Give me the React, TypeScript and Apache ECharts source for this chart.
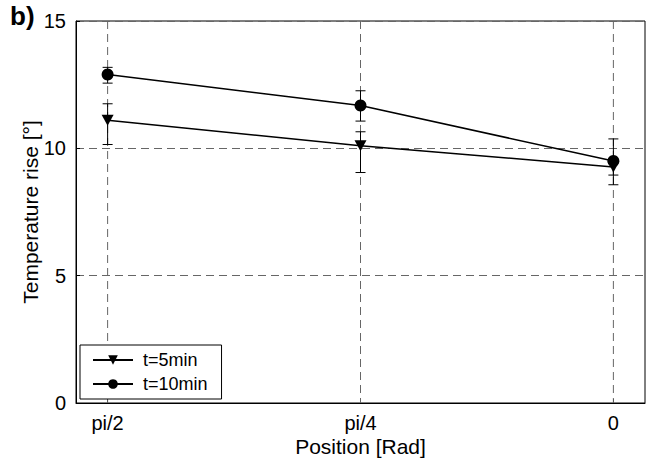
import React, { useEffect, useRef } from "react";
import * as echarts from "echarts";

const positions = ["pi/2", "pi/4", "0"];
const positionX = [0, 1, 2];
const t5 = [11.1, 10.1, 9.27];
const t5Low = [10.15, 9.05, 8.95];
const t5High = [11.75, 10.65, 9.58];
const t10 = [12.9, 11.68, 9.5];
const t10Low = [12.56, 11.07, 8.57];
const t10High = [13.18, 12.26, 10.37];
const yTicks = [0, 5, 10, 15];

const FONT = "'Liberation Sans', Arial, sans-serif";
const FS = 20;

export default function App() {
  const ref = useRef<HTMLDivElement>(null);
  useEffect(() => {
    if (!ref.current) return;
    const chart = echarts.init(ref.current, null, { renderer: "svg" });
    const errData = (lo: number[], hi: number[]) =>
      positionX.map((x, i) => [x, lo[i], hi[i]]);
    const renderErr = (params: any, api: any) => {
      const x = api.value(0);
      const lo = api.coord([x, api.value(1)]);
      const hi = api.coord([x, api.value(2)]);
      const w = 5;
      const style = { stroke: "#000", lineWidth: 1 };
      return {
        type: "group",
        children: [
          { type: "line", shape: { x1: lo[0], y1: lo[1], x2: hi[0], y2: hi[1] }, style },
          { type: "line", shape: { x1: lo[0] - w, y1: lo[1], x2: lo[0] + w, y2: lo[1] }, style },
          { type: "line", shape: { x1: hi[0] - w, y1: hi[1], x2: hi[0] + w, y2: hi[1] }, style },
        ],
      };
    };
    const renderGridX = (params: any, api: any) => {
      const x = api.value(0);
      const top = api.coord([x, 15]);
      const bot = api.coord([x, 0]);
      return {
        type: "line",
        shape: { x1: top[0], y1: top[1], x2: bot[0], y2: bot[1] },
        style: { stroke: "#666", lineWidth: 1, lineDash: [8, 5] },
      };
    };
    chart.setOption({
      animation: false,
      textStyle: { fontFamily: FONT },
      grid: {
        left: 76,
        right: 12,
        top: 21,
        bottom: 58,
        outerBoundsMode: "none",
        containLabel: false,
        show: true,
        borderColor: "#000",
        borderWidth: 1,
        backgroundColor: "transparent",
      },
      xAxis: {
        type: "value",
        min: -0.125,
        max: 2.125,
        name: "Position [Rad]",
        nameLocation: "middle",
        nameGap: 33,
        nameMoveOverlap: false,
        nameTextStyle: { fontSize: 21, color: "#000", fontFamily: FONT },
        axisLine: { onZero: false, lineStyle: { color: "#000", width: 1 } },
        axisTick: { show: true, inside: true, length: 4, customValues: positionX, lineStyle: { color: "#000" } },
        axisLabel: {
          customValues: positionX,
          formatter: (v: number) => positions[Math.round(v)] ?? "",
          fontSize: FS,
          color: "#000",
          margin: 10,
          fontFamily: FONT,
        },
        splitLine: { show: false },
      },
      yAxis: {
        type: "value",
        min: 0,
        max: 15,
        interval: 5,
        name: "Temperature rise [°]",
        nameLocation: "middle",
        nameGap: 35,
        nameMoveOverlap: false,
        nameTextStyle: { fontSize: 21, color: "#000", fontFamily: FONT },
        axisLine: { show: true, onZero: false, lineStyle: { color: "#000", width: 1 } },
        axisTick: { show: true, inside: true, length: 4, lineStyle: { color: "#000" } },
        axisLabel: {
          fontSize: FS,
          color: "#000",
          margin: 10,
          fontFamily: FONT,
          formatter: (v: number) => (yTicks.includes(v) ? String(v) : ""),
        },
        splitLine: { show: true, lineStyle: { color: "#666", type: [8, 5], width: 1 } },
      },
      legend: {
        left: 80,
        top: 345,
        orient: "vertical",
        itemWidth: 40,
        itemHeight: 12,
        itemGap: 6,
        padding: [6, 14, 6, 12],
        borderColor: "#000",
        borderWidth: 1,
        backgroundColor: "#fff",
        textStyle: { fontSize: 18, color: "#000", fontFamily: FONT, padding: [0, 0, 0, 5] },
        data: ["t=5min", "t=10min"],
      },
      series: [
        {
          name: "gridx",
          type: "custom",
          renderItem: renderGridX,
          data: positionX.map((x) => [x]),
          silent: true,
          z: 1,
        },
        {
          name: "err5",
          type: "custom",
          renderItem: renderErr,
          data: errData(t5Low, t5High),
          z: 3,
        },
        {
          name: "err10",
          type: "custom",
          renderItem: renderErr,
          data: errData(t10Low, t10High),
          z: 3,
        },
        {
          name: "t=5min",
          type: "line",
          data: positionX.map((x, i) => [x, t5[i]]),
          symbol: "triangle",
          symbolRotate: 180,
          symbolSize: [12, 11],
          itemStyle: { color: "#000" },
          lineStyle: { color: "#000", width: 1.5 },
          z: 4,
        },
        {
          name: "t=10min",
          type: "line",
          data: positionX.map((x, i) => [x, t10[i]]),
          symbol: "circle",
          symbolSize: 12,
          itemStyle: { color: "#000" },
          lineStyle: { color: "#000", width: 1.5 },
          z: 4,
        },
      ],
      graphic: [
        {
          type: "text",
          left: 10,
          top: 3,
          style: { text: "b)", font: `bold 26px ${FONT}`, fill: "#000" },
        },
      ],
    });
    return () => chart.dispose();
  }, []);
  return <div ref={ref} style={{ width: 657, height: 461, position: "absolute", left: 0, top: 0 }} />;
}
